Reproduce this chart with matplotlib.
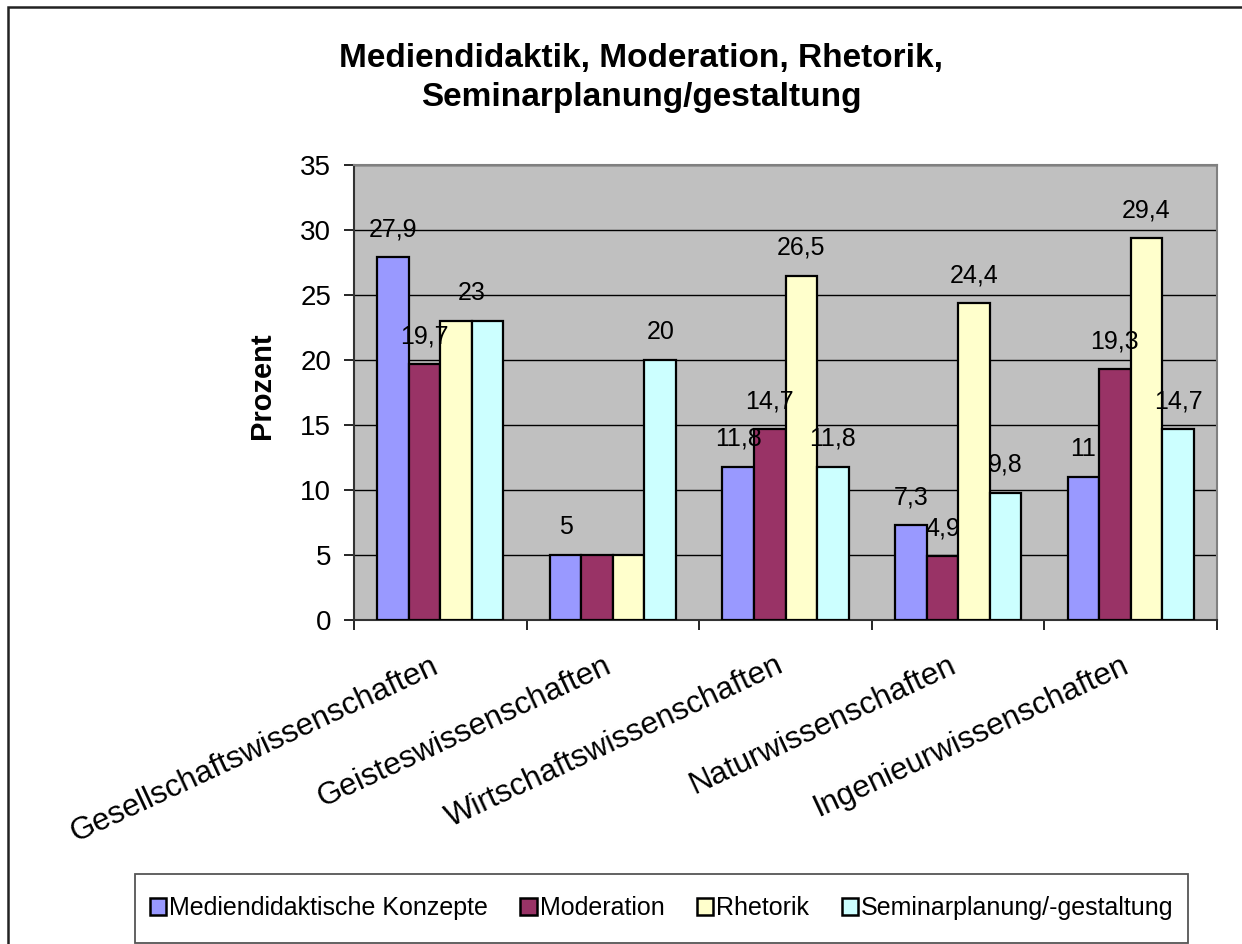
import matplotlib
matplotlib.use("Agg")
import matplotlib.pyplot as plt
import matplotlib.patches as mpatches
import matplotlib.transforms as mtransforms
import numpy as np

plt.rcParams['font.family'] = ['Liberation Sans', 'DejaVu Sans']

categories = ["Gesellschaftswissenschaften", "Geisteswissenschaften",
              "Wirtschaftswissenschaften", "Naturwissenschaften",
              "Ingenieurwissenschaften"]
series_names = ["Mediendidaktische Konzepte", "Moderation", "Rhetorik",
                "Seminarplanung/-gestaltung"]
medien = [27.9, 5, 11.8, 7.3, 11]
moderation = [19.7, 5, 14.7, 4.9, 19.3]
rhetorik = [23, 5, 26.5, 24.4, 29.4]
seminar = [23, 20, 11.8, 9.8, 14.7]
series = [medien, moderation, rhetorik, seminar]
# which data labels are visible in the reference (1 = shown)
show_medien = [1, 1, 1, 1, 1]
show_moderation = [1, 0, 1, 1, 1]
show_rhetorik = [0, 0, 1, 1, 1]
show_seminar = [0, 1, 1, 1, 1]
shows = [show_medien, show_moderation, show_rhetorik, show_seminar]
# shared label: (category, series a, series b) drawn once between both bars
shared_labels = [(0, 2, 3)]
colors = ["#9999FF", "#993366", "#FFFFCC", "#CCFFFF"]
yticks = [0, 5, 10, 15, 20, 25, 30, 35]
title = "Mediendidaktik, Moderation, Rhetorik,\nSeminarplanung/gestaltung"
ylabel = "Prozent"

W, H = 1242, 944
fig = plt.figure(figsize=(W / 100, H / 100), dpi=100)
fig.patch.set_facecolor("white")

# outer chart border (right/bottom cut off in reference)
fig.patches.append(mpatches.Rectangle((8 / W, -0.5), 2.0, 1 - 7 / H + 0.5,
                                      transform=fig.transFigure, fill=False,
                                      edgecolor="#222222", linewidth=1.8))

ax = fig.add_axes([354 / W, 1 - 620 / H, (1217 - 354) / W, (620 - 165) / H])
ax.set_facecolor("#C0C0C0")

n = len(categories)
x = np.arange(n)
bw = 0.183
offsets = (np.arange(4) - 1.5) * bw

def fmt(v):
    return ("%g" % v).replace(".", ",")

label_kw = dict(textcoords="offset points", ha="center", va="center",
                fontsize=18, zorder=5)
for i, (vals, c) in enumerate(zip(series, colors)):
    bars = ax.bar(x + offsets[i], vals, width=bw, color=c, edgecolor="black",
                  linewidth=1.6, zorder=3, label=series_names[i])
    for k, (b, v) in enumerate(zip(bars, vals)):
        if shows[i][k]:
            ax.annotate(fmt(v), (b.get_x() + b.get_width() / 2, v),
                        xytext=(0, 20), **label_kw)

for (k, a, b) in shared_labels:
    xm = k + (offsets[a] + offsets[b]) / 2
    v = max(series[a][k], series[b][k])
    ax.annotate(fmt(v), (xm, v), xytext=(0, 20), **label_kw)

ax.set_xlim(-0.5, n - 0.5)
ax.set_ylim(0, 35)
ax.set_yticks(yticks)
ax.set_yticklabels([str(t) for t in yticks], fontsize=20)
ax.yaxis.grid(True, color="black", linewidth=1.0, zorder=1)
ax.set_axisbelow(True)

ax.set_xticks(x)
ax.set_xticklabels(categories, rotation=25, ha="right", va="top",
                   rotation_mode="anchor", fontsize=22.5)
ax.tick_params(axis="x", length=0, pad=12)
shift = mtransforms.ScaledTranslation(-10 / 100, -14 / 100, fig.dpi_scale_trans)
for lbl in ax.get_xticklabels():
    lbl.set_transform(lbl.get_transform() + shift)
# category boundary ticks
ax.set_xticks(np.arange(n + 1) - 0.5, minor=True)
ax.tick_params(axis="x", which="minor", length=7, width=1.2, direction="out")
ax.tick_params(axis="y", length=7.5, width=1.2, direction="out", pad=9)

for side in ["top", "right"]:
    ax.spines[side].set_color("#808080")
    ax.spines[side].set_linewidth(1.5)
ax.spines["left"].set_color("#333333")
ax.spines["bottom"].set_color("#333333")
ax.spines["left"].set_linewidth(1.5)
ax.spines["bottom"].set_linewidth(1.5)

fig.text(641 / W, 1 - 78 / H, title, ha="center", va="center",
         fontsize=24, fontweight="bold", linespacing=1.35)
fig.text(262 / W, 1 - 386 / H, ylabel, ha="center", va="center",
         rotation=90, fontsize=21, fontweight="bold")

# legend box
fig.patches.append(mpatches.Rectangle((135 / W, 1 - 943 / H), (1188 - 135) / W,
                                      (943 - 874) / H, transform=fig.transFigure,
                                      fill=True, facecolor="white",
                                      edgecolor="#555555", linewidth=1.3))
handles = [mpatches.Patch(facecolor=c, edgecolor="black", linewidth=1.8)
           for c in colors]
fig.legend(handles, series_names, loc="center", ncol=4,
           bbox_to_anchor=((135 + 1188) / 2 / W, 1 - 908 / H),
           frameon=False, fontsize=18, handlelength=0.65, handleheight=0.65,
           handletextpad=0.12, columnspacing=1.3)

fig.savefig("out.png", dpi=100)
